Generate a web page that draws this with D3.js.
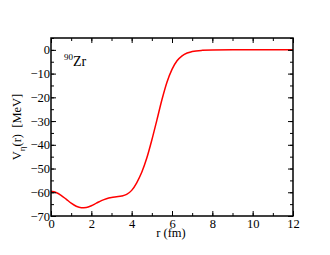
<!DOCTYPE html>
<html lang="en">
<head>
<meta charset="utf-8">
<title>Vn Zr90</title>
<script src="https://cdn.jsdelivr.net/npm/d3@7"></script>
<style>
  body { margin: 0; background: #fff; }
  svg text { font-family: "Liberation Serif", "Times New Roman", "DejaVu Serif", serif; fill: #000; }
</style>
</head>
<body>
<div id="chart"></div>
<script>
// potential V_eta(r) for 90Zr
var rVals = [0, 0.25, 0.5, 0.75, 1, 1.25, 1.5, 1.75, 2, 2.25, 2.5, 2.75, 3, 3.25, 3.5, 3.75, 4,
             4.25, 4.5, 4.75, 5, 5.25, 5.5, 5.75, 6, 6.25, 6.5, 6.75, 7, 7.5, 8, 9, 10, 11, 12];
var vVals = [-59.6, -60.1, -61.3, -62.9, -64.6, -65.9, -66.5, -66.4, -65.7, -64.6, -63.5, -62.7, -62.2, -61.9, -61.6, -60.9, -59.2,
             -56.0, -51.6, -45.6, -38.0, -29.6, -21.0, -13.6, -8.2, -4.6, -2.5, -1.3, -0.7, -0.2, -0.05, 0, 0, 0, 0];
var xTicks = [0, 2, 4, 6, 8, 10, 12];
var yTicks = [0, -10, -20, -30, -40, -50, -60, -70];

var W = 330, H = 255;
var margin = {top: 38, right: 37, bottom: 39, left: 51};
var width = W - margin.left - margin.right,
    height = H - margin.top - margin.bottom;
var serif = "'Liberation Serif', 'Times New Roman', serif";

var svg = d3.select("#chart").append("svg")
    .attr("width", W).attr("height", H);
var g = svg.append("g")
    .attr("transform", "translate(" + margin.left + "," + margin.top + ")");

var x = d3.scaleLinear().domain([0, 12]).range([0, width]);
var y = d3.scaleLinear().domain([-70, 5]).range([height, 0]);

var data = rVals.map(function(r, i) { return {r: r, v: vVals[i]}; });

// curve
g.append("path")
    .datum(data)
    .attr("fill", "none")
    .attr("stroke", "#ff0000")
    .attr("stroke-width", 1.5)
    .attr("d", d3.line()
        .x(function(d) { return x(d.r); })
        .y(function(d) { return y(d.v); })
        .curve(d3.curveMonotoneX));

// inward ticks on all sides
function styleAxis(sel) {
  sel.attr("font-family", serif).attr("font-size", 12.5);
  sel.select(".domain").remove();
  sel.selectAll("line").attr("stroke", "#000").attr("stroke-width", 1);
}
var xMinor = d3.range(0, 12.01, 1), yMinor = d3.range(-70, 5.01, 5);

g.append("g").attr("transform", "translate(0," + height + ")")
  .call(d3.axisBottom(x).tickValues(xMinor).tickSize(-3).tickFormat(""))
  .call(styleAxis);
g.append("g").attr("transform", "translate(0," + height + ")")
  .call(d3.axisBottom(x).tickValues(xTicks).tickSize(-5).tickPadding(3).tickFormat(d3.format("d")))
  .call(styleAxis);
g.append("g")
  .call(d3.axisTop(x).tickValues(xMinor).tickSize(-3).tickFormat(""))
  .call(styleAxis);
g.append("g")
  .call(d3.axisTop(x).tickValues(xTicks).tickSize(-5).tickFormat(""))
  .call(styleAxis);

g.append("g")
  .call(d3.axisLeft(y).tickValues(yMinor).tickSize(-3).tickFormat(""))
  .call(styleAxis);
g.append("g")
  .call(d3.axisLeft(y).tickValues(yTicks).tickSize(-5).tickPadding(1).tickFormat(d3.format("d")))
  .call(styleAxis);
g.append("g").attr("transform", "translate(" + width + ",0)")
  .call(d3.axisRight(y).tickValues(yMinor).tickSize(-3).tickFormat(""))
  .call(styleAxis);
g.append("g").attr("transform", "translate(" + width + ",0)")
  .call(d3.axisRight(y).tickValues(yTicks).tickSize(-5).tickFormat(""))
  .call(styleAxis);

// frame
g.append("rect")
    .attr("width", width).attr("height", height)
    .attr("fill", "none").attr("stroke", "#000").attr("stroke-width", 1.5);

// labels
g.append("text")
    .attr("x", width / 2 - 1).attr("y", height + 21)
    .attr("text-anchor", "middle").style("font-size", "12.5px")
    .text("r (fm)");

var yl = g.append("text")
    .attr("transform", "translate(-30," + (height / 2) + ") rotate(-90)")
    .attr("text-anchor", "middle").style("font-size", "12.5px");
yl.append("tspan").text("V");
yl.append("tspan").attr("dy", 4).style("font-size", "9px").text("η");
yl.append("tspan").attr("dy", -4).text("(r)  [MeV]").attr("xml:space", "preserve");

var nuc = g.append("text").attr("x", 13).attr("y", 28).style("font-size", "14px");
nuc.append("tspan").attr("dy", -6).style("font-size", "9px").text("90");
nuc.append("tspan").attr("dy", 6).text("Zr");
</script>
</body>
</html>
